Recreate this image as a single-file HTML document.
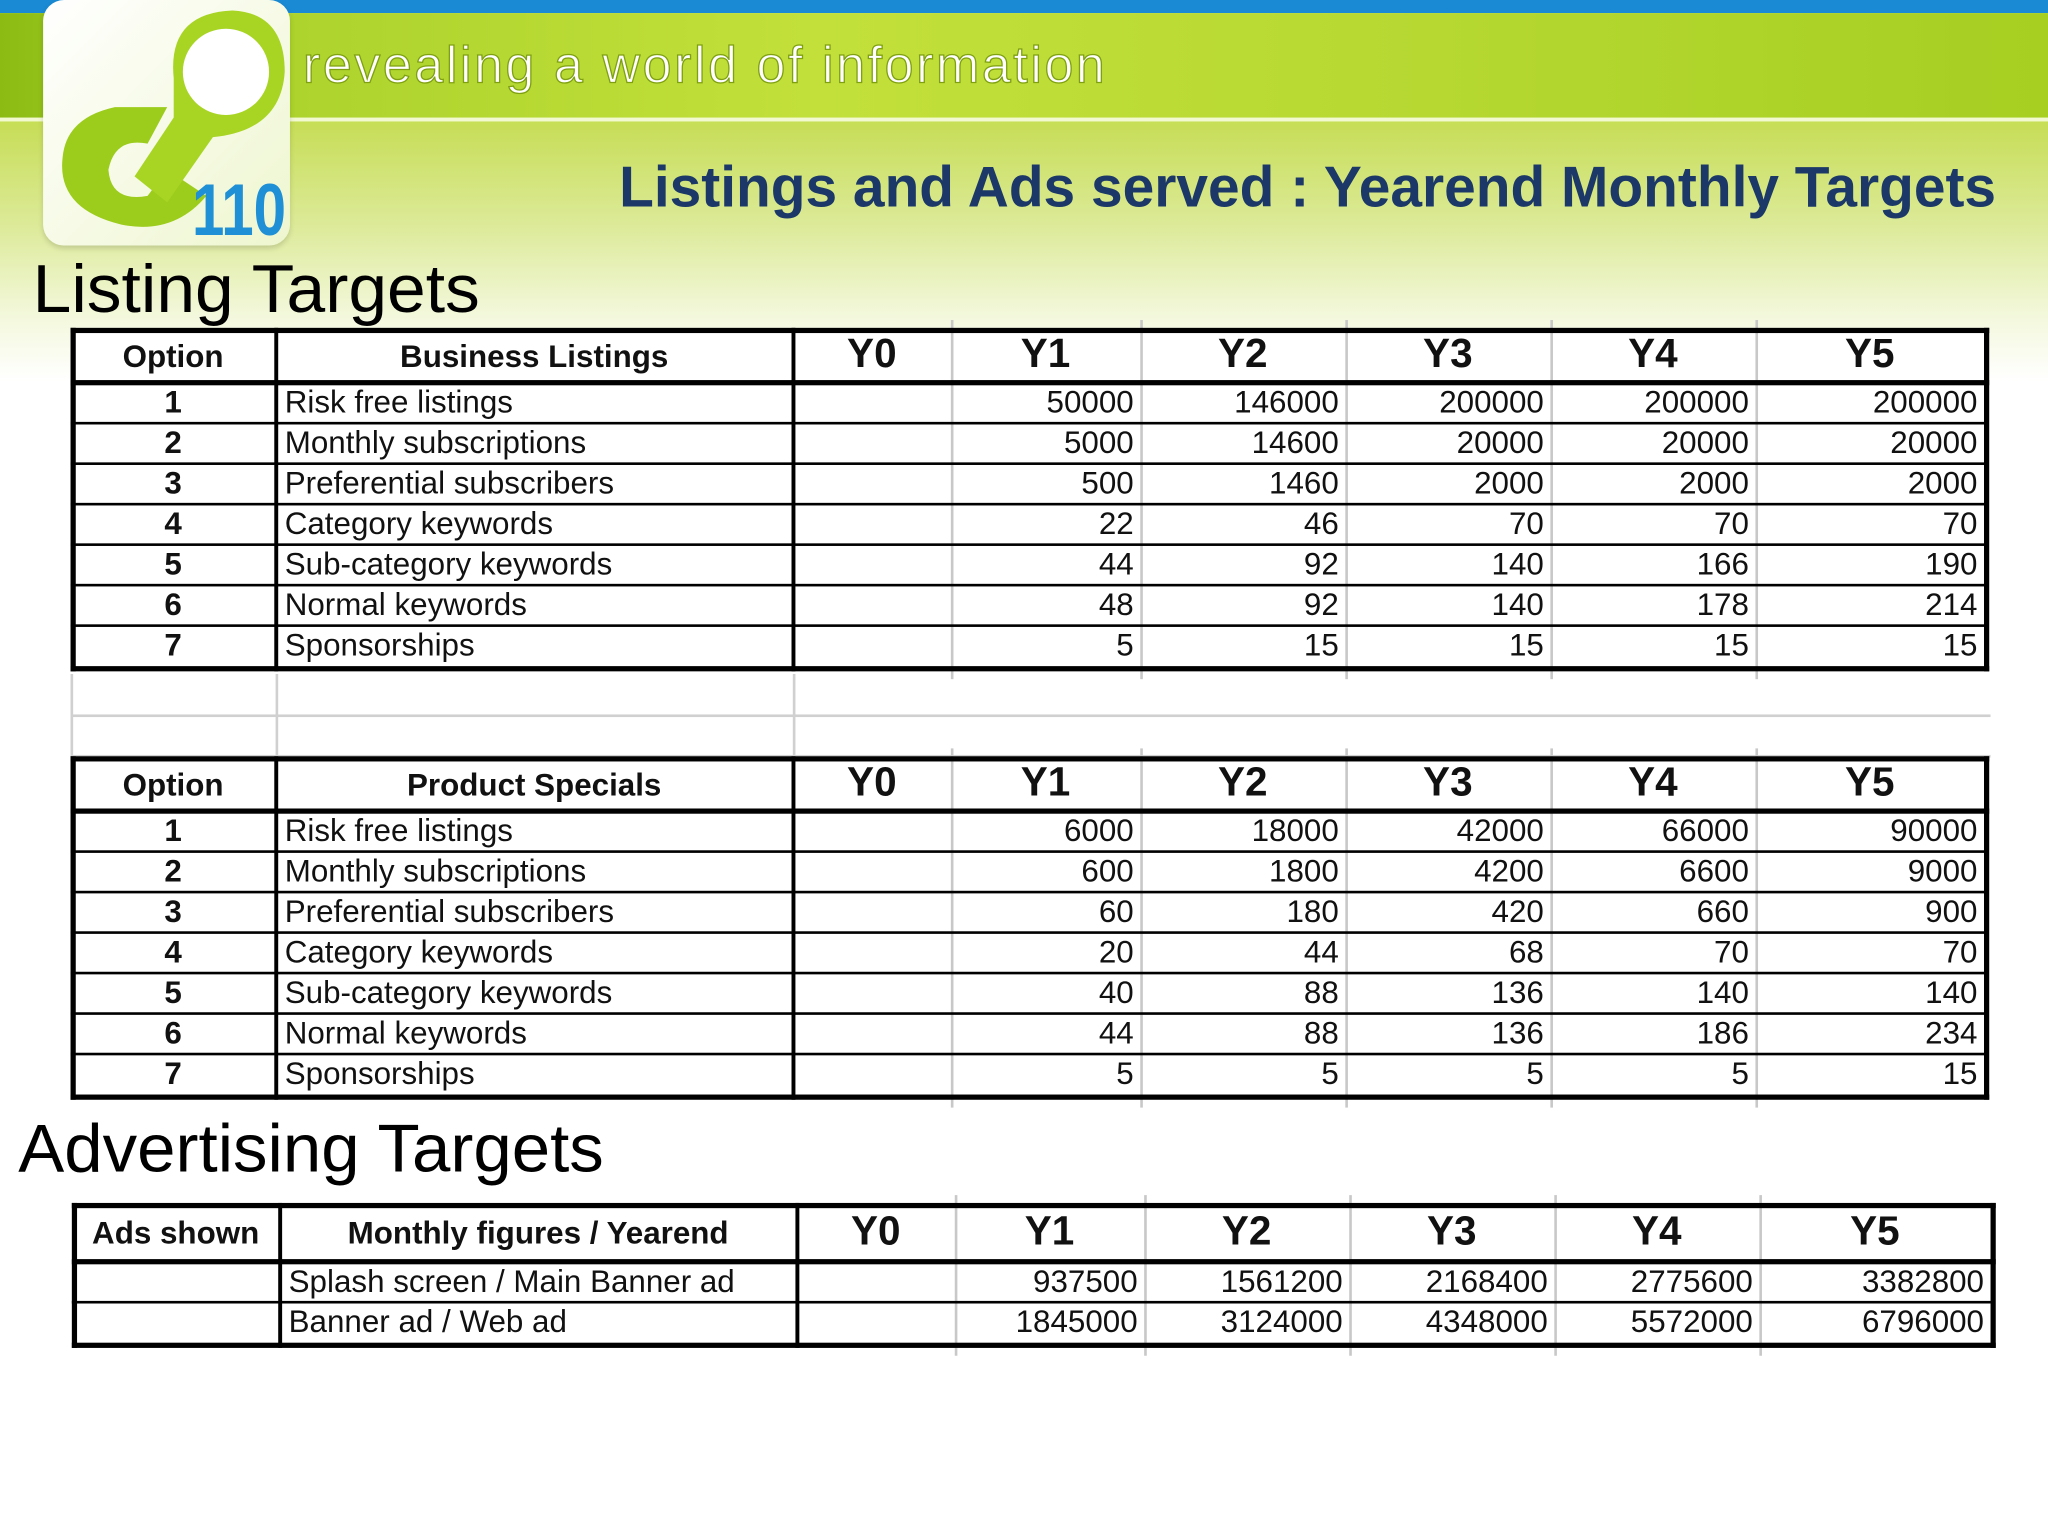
<!DOCTYPE html>
<html><head><meta charset="utf-8">
<style>
html,body{margin:0;padding:0;width:2048px;height:1536px;overflow:hidden;background:#fff}
#stage{position:absolute;left:0;top:0;width:1568px;height:1176px;transform:scale(1.306122);transform-origin:0 0;font-family:"Liberation Sans",Arial,sans-serif;overflow:hidden;
background:linear-gradient(to bottom,#ffffff 0,#ffffff 0) }
.abs{position:absolute}
.fit{position:absolute;white-space:nowrap;transform-origin:0 50%}
.cell{position:absolute;white-space:nowrap;font-size:24px;line-height:31px;color:#111}
</style></head>
<body>
<div id="stage">
  <div class="abs" style="left:0;top:92px;width:1568px;height:200px;background:linear-gradient(to bottom,#c6dd55 0%,#dcea98 40%,#f3f8dc 75%,#ffffff 100%)"></div>
  <div class="abs" style="left:0;top:0;width:1568px;height:10px;background:#1a8ad4"></div>
  <div class="abs" style="left:0;top:10px;width:1568px;height:81px;background:linear-gradient(to right,#8cbc14 0%,#a9d12a 10%,#c3e03a 40%,#b6d831 70%,#a6cf22 100%)"></div>
  <div class="abs" style="left:0;top:90px;width:1568px;height:3px;background:#f2f8d0"></div>

  <div class="abs" style="left:33px;top:0;width:189px;height:188px;border-radius:16px;background:linear-gradient(135deg,#ffffff,#eef6cf);box-shadow:0 2px 4px rgba(0,0,0,.15);overflow:hidden">
    <svg width="189" height="188" viewBox="0 0 189 188">
      <path d="M55 82 L95 82 L80 110 Q55 105 50 130 Q52 155 80 150 L95 130 L125 150 Q100 180 60 172 Q10 160 15 120 Q18 90 55 82Z" fill="#9ccc1c"/>
      <path d="M100 60 Q95 10 145 8 Q185 10 185 55 Q182 100 130 105 L95 155 L70 135 L100 90 Z" fill="#a8d424"/>
      <circle cx="140" cy="55" r="33" fill="#fff"/>
      <text x="114" y="180" font-family="Liberation Sans,sans-serif" font-weight="bold" font-size="56" fill="#1f8fd6" textLength="72" lengthAdjust="spacingAndGlyphs">110</text>
    </svg>
  </div>

  <div class="fit" id="tagline" style="left:232px;top:28px;font-size:40px;line-height:44px;color:#fff;letter-spacing:2px;-webkit-text-stroke:1px #7fa010">revealing a world of information</div>
  <div class="fit" id="title" style="left:474px;top:118px;font-size:44px;line-height:52px;font-weight:bold;color:#1b3868">Listings and Ads served : Yearend Monthly Targets</div>
  <div class="fit" id="h1" style="left:25px;top:193px;font-size:52px;line-height:58px;color:#000">Listing Targets</div>
  <div class="fit" id="h2" style="left:14px;top:851px;font-size:52px;line-height:58px;color:#000">Advertising Targets</div>
  <div id="tables"></div>
</div>
<script>
// Data arrays
const yearLabels = ["Y0","Y1","Y2","Y3","Y4","Y5"];
const listingNames = ["Risk free listings","Monthly subscriptions","Preferential subscribers","Category keywords","Sub-category keywords","Normal keywords","Sponsorships"];
const businessY1 = [50000,5000,500,22,44,48,5];
const businessY2 = [146000,14600,1460,46,92,92,15];
const businessY3 = [200000,20000,2000,70,140,140,15];
const businessY4 = [200000,20000,2000,70,166,178,15];
const businessY5 = [200000,20000,2000,70,190,214,15];
const productY1 = [6000,600,60,20,40,44,5];
const productY2 = [18000,1800,180,44,88,88,5];
const productY3 = [42000,4200,420,68,136,136,5];
const productY4 = [66000,6600,660,70,140,186,5];
const productY5 = [90000,9000,900,70,140,234,15];
const adNames = ["Splash screen / Main Banner ad","Banner ad / Web ad"];
const adsY1 = [937500,1845000];
const adsY2 = [1561200,3124000];
const adsY3 = [2168400,4348000];
const adsY4 = [2775600,5572000];
const adsY5 = [3382800,6796000];

const host = document.getElementById('tables');
function box(x,y,w,h,bg){const d=document.createElement('div');d.className='abs';d.style.cssText=`left:${x}px;top:${y}px;width:${w}px;height:${h}px;background:${bg}`;host.appendChild(d);return d;}
function txt(s,x,y,w,h,align,opts){const d=document.createElement('div');d.className='cell';d.textContent=s;
 d.style.left=x+'px';d.style.top=y+'px';d.style.width=w+'px';d.style.height=h+'px';d.style.lineHeight=h+'px';d.style.textAlign=align;
 if(opts&&opts.bold)d.style.fontWeight='bold';if(opts&&opts.size)d.style.fontSize=opts.size+'px';
 d.style.padding='0 5px';d.style.boxSizing='border-box';host.appendChild(d);return d;}

function makeTable(key,cols,top,headH,rowH,head1,head2,optNums,names,series){
  const left=cols[0],right=cols[cols.length-1],n=names.length;
  const bottom=top+headH+n*rowH;
  const t=box(left,top,right-left,bottom-top+4,'#fff');
  
  
  // gray light verticals for year columns
  for(let i=3;i<cols.length-1;i++){const v=box(cols[i],top-6,1.5,bottom-top+16,'#c8c8c8');
    
    }
  // black verticals
  [1,2].forEach(i=>{const v=box(cols[i]-1,top,2.5,bottom-top+4,'#000');
    
    });
  // headers
  const h1=txt(head1,cols[0],top+3,cols[1]-cols[0],headH-3,'center',{bold:true,size:24});
  
  
  const h2=txt(head2,cols[1],top+3,cols[2]-cols[1],headH-3,'center',{bold:true,size:24});
  
  
  yearLabels.forEach((y,i)=>{const h=txt(y,cols[i+2],top,cols[i+3]-cols[i+2],headH-2,'center',{bold:true,size:31});
    
    });
  // row lines
  for(let r=1;r<n;r++){const l=box(left,top+headH+r*rowH-1,right-left,2,'#000');
    
    }
  // rows
  names.forEach((nm,r)=>{const y=top+headH+r*rowH;
    if(optNums){const o=txt(String(r+1),cols[0],y,cols[1]-cols[0],rowH,'center',{bold:true});
      
      }
    const c=txt(nm,cols[1]+2,y,cols[2]-cols[1],rowH,'left');
    
    
    series.forEach((s,j)=>{const v=txt(String(s[r]),cols[j+3],y,cols[j+4]-cols[j+3],rowH,'right');
      
      });
  });
  // thick borders
  const th=4;
  [[left,top,right-left+th,th],[left,top+headH-2,right-left+th,th],[left,bottom,right-left+th,th],[left,top,th,bottom-top+th],[right,top,th,bottom-top+th]].forEach(a=>{
    const b=box(a[0],a[1],a[2],a[3],'#000');
    
    });
}
const colsA=[54,211,607,728,873,1030,1187,1344,1519];
// faint spreadsheet gridlines in gap
[547,578].forEach(y=>{const g=box(54,y,1470,1.5,'#d0d0d0');
  
  });
[54,211,607].forEach(x=>{const g=box(x,516,1.5,62,'#d0d0d0');
  
  });
makeTable('business',colsA,251,42,31,'Option','Business Listings',true,listingNames,[businessY1,businessY2,businessY3,businessY4,businessY5]);
makeTable('product',colsA,579,42,31,'Option','Product Specials',true,listingNames,[productY1,productY2,productY3,productY4,productY5]);
const colsC=[55,214,610,731,876,1033,1190,1347,1524];
makeTable('ads',colsC,921,45,31,'Ads shown','Monthly figures / Yearend',false,adNames,[adsY1,adsY2,adsY3,adsY4,adsY5]);

// fit text widths
function fit(id,w){const e=document.getElementById(id);const r=e.scrollWidth;e.style.transform=`scaleX(${w/r})`;}
fit('tagline',616);fit('title',1054);fit('h1',342);fit('h2',448);
</script>
</body></html>
